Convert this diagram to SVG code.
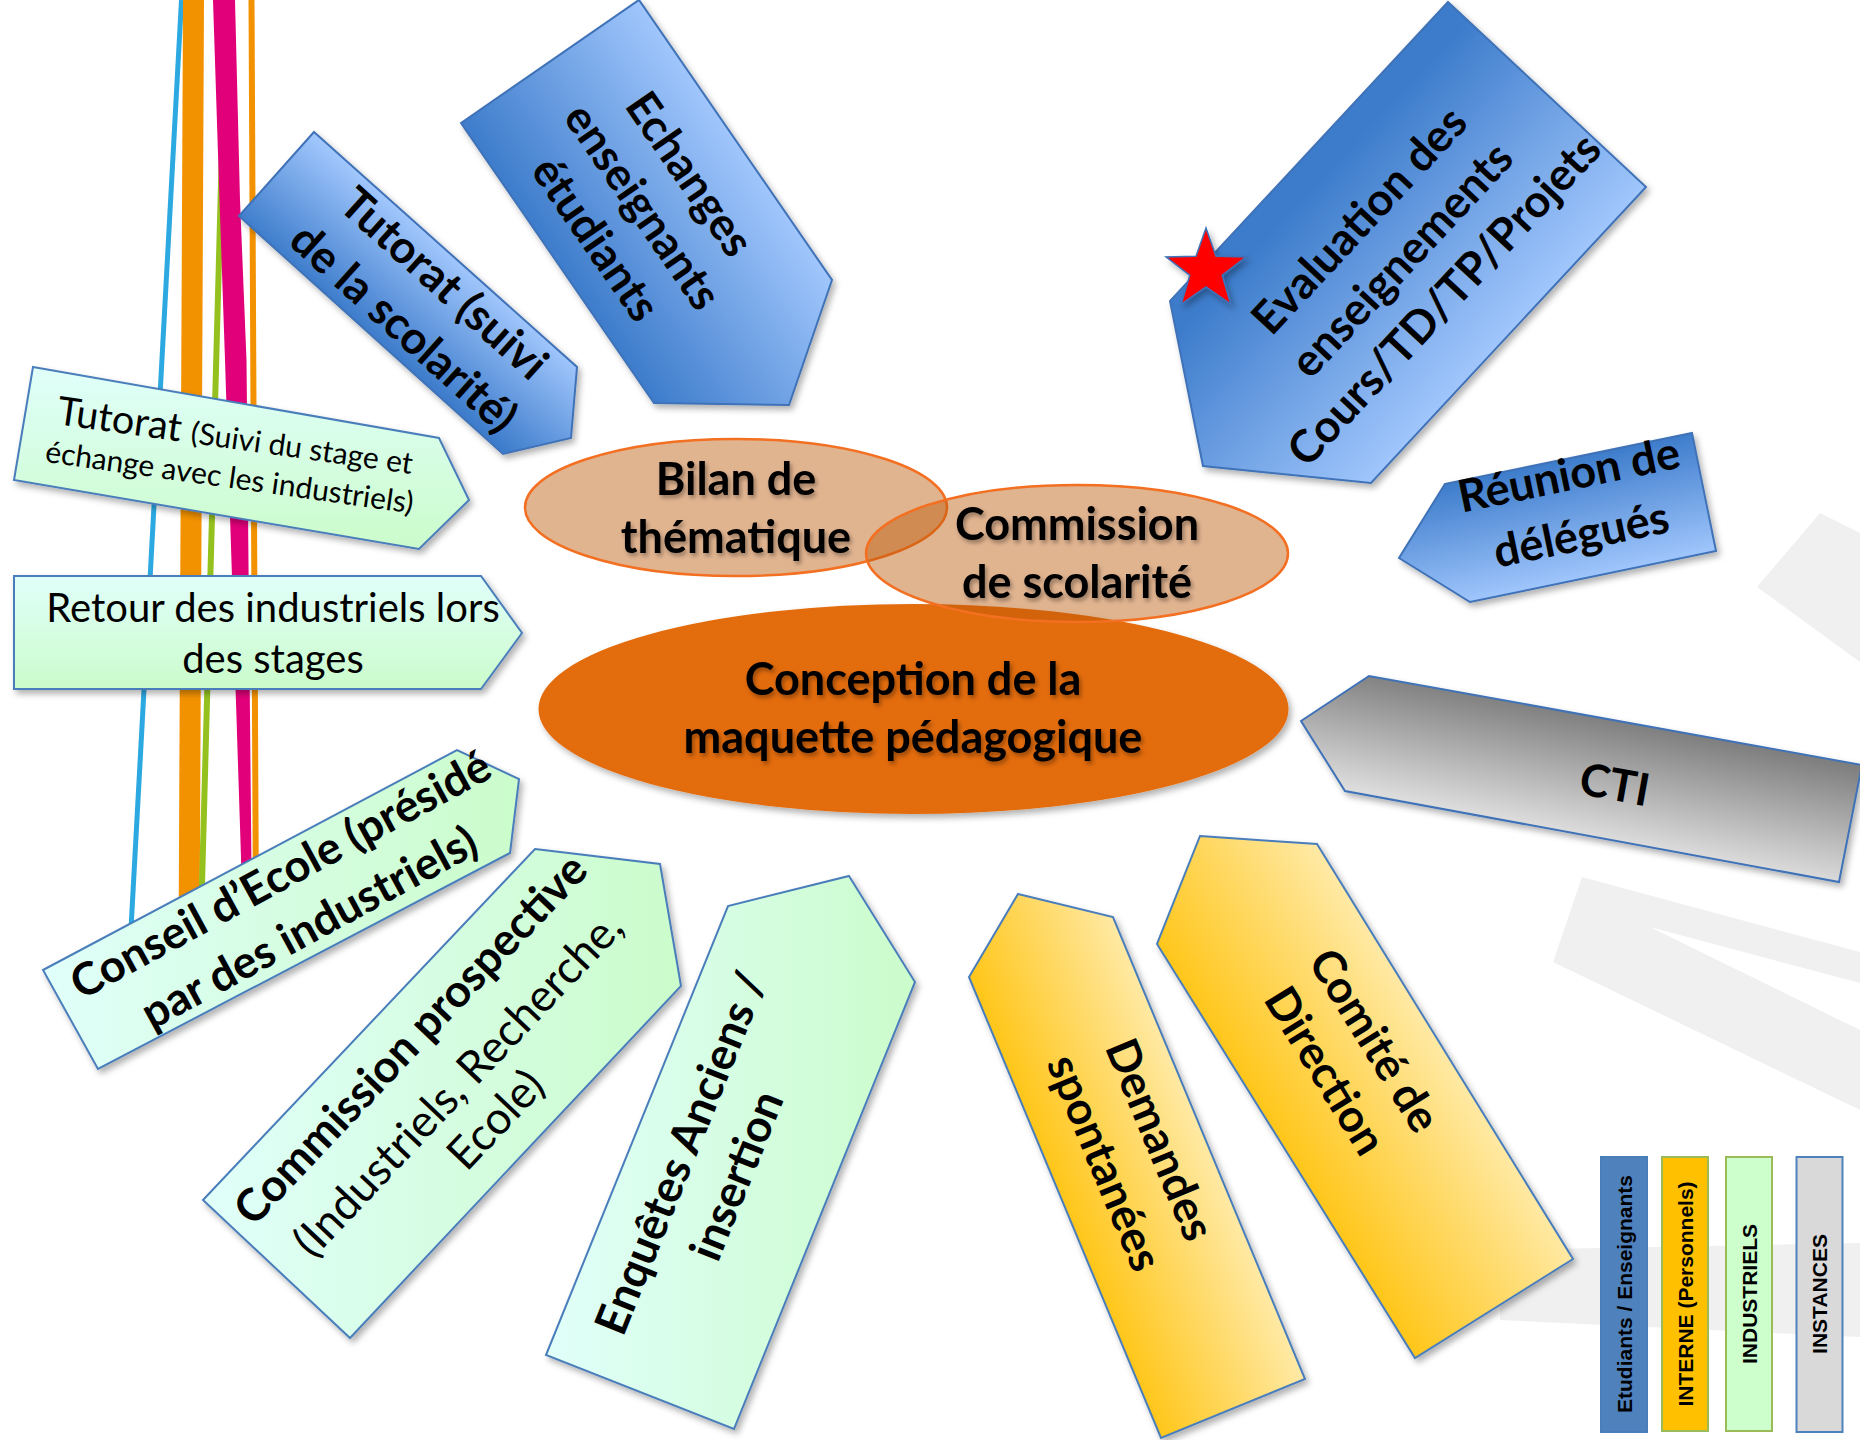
<svg xmlns="http://www.w3.org/2000/svg" width="1860" height="1440" viewBox="0 0 1860 1440">
<defs>
<style>
.b{font-family:Lato,"Open Sans","DejaVu Sans",sans-serif;font-weight:700;font-size:45px;fill:#000;text-anchor:middle}
.r{font-family:Lato,"Open Sans","DejaVu Sans",sans-serif;font-weight:400;font-size:45px;fill:#000;text-anchor:middle}
.lg{font-family:"Liberation Sans",Arial,sans-serif;font-weight:700;font-size:21px;fill:#000;text-anchor:middle}
.blue{stroke:#3F72B8;stroke-width:2;filter:url(#sh)}
.green{stroke:#4A7EBB;stroke-width:2;filter:url(#sh)}
.yel{stroke:#4A7EBB;stroke-width:2;filter:url(#sh)}
.wm{fill:#F0F0F0}
.ts{filter:url(#tsh)}
</style>
<filter id="sh" x="-10%" y="-10%" width="130%" height="130%">
<feDropShadow dx="3" dy="4" stdDeviation="3" flood-color="#000" flood-opacity="0.3"/>
</filter>
<filter id="tsh" x="-10%" y="-20%" width="130%" height="150%">
<feDropShadow dx="2" dy="3" stdDeviation="2" flood-color="#000" flood-opacity="0.35"/>
</filter>
<linearGradient id="gEch" gradientUnits="userSpaceOnUse" x1="557" y1="263" x2="735" y2="140"><stop offset="0" stop-color="#3D7CCB"/><stop offset="1" stop-color="#A0C6FC"/></linearGradient>
<linearGradient id="gTut" gradientUnits="userSpaceOnUse" x1="371" y1="335" x2="445" y2="250"><stop offset="0" stop-color="#3D7CCB"/><stop offset="1" stop-color="#A0C6FC"/></linearGradient>
<linearGradient id="gEva" gradientUnits="userSpaceOnUse" x1="1309" y1="151" x2="1508" y2="335"><stop offset="0.1" stop-color="#3D7CCB"/><stop offset="1" stop-color="#A0C6FC"/></linearGradient>
<linearGradient id="gReu" gradientUnits="userSpaceOnUse" x1="1568" y1="458" x2="1593" y2="577"><stop offset="0" stop-color="#3D7CCB"/><stop offset="1" stop-color="#A0C6FC"/></linearGradient>
<linearGradient id="gCTI" gradientUnits="userSpaceOnUse" x1="1615" y1="720" x2="1592" y2="836"><stop offset="0" stop-color="#7F7F7F"/><stop offset="1" stop-color="#DCDCDC"/></linearGradient>
<linearGradient id="gCom" gradientUnits="userSpaceOnUse" x1="1286" y1="1151" x2="1445" y2="1051"><stop offset="0" stop-color="#FFC61A"/><stop offset="1" stop-color="#FFE9A4"/></linearGradient>
<linearGradient id="gDem" gradientUnits="userSpaceOnUse" x1="1065" y1="1207" x2="1209" y2="1148"><stop offset="0" stop-color="#FFC61A"/><stop offset="1" stop-color="#FFE9A4"/></linearGradient>
<linearGradient id="gGrn" x1="0" y1="0" x2="0" y2="1"><stop offset="0" stop-color="#E0FFFA"/><stop offset="1" stop-color="#CBFCCB"/></linearGradient>
<linearGradient id="gGrnH" x1="0" y1="0" x2="1" y2="0"><stop offset="0" stop-color="#E0FFFA"/><stop offset="1" stop-color="#CBFCCB"/></linearGradient>
</defs>
<rect width="1860" height="1440" fill="#FFFFFF"/>

<g id="watermark">
<polygon class="wm" points="1757,587 1820,513 1860,533 1860,662"/>
<polygon class="wm" points="1582,877 1860,952 1860,983 1650,927 1860,1030 1860,1110 1553,962"/>
<polygon class="wm" points="1500,1250 1860,1243 1860,1337 1500,1320"/>
</g>

<g id="connectors">
<line x1="181.5" y1="0" x2="129.3" y2="960" stroke="#2CA9E1" stroke-width="5"/>
<line x1="193.5" y1="0" x2="189" y2="950" stroke="#F39200" stroke-width="21"/>
<line x1="226" y1="0" x2="200.5" y2="940" stroke="#95C11F" stroke-width="6"/>
<polygon points="213,0 235,0 240,200 246.5,360 252,920 243,920 225,360 219.5,200" fill="#E2007A"/>
<line x1="251.5" y1="0" x2="256" y2="920" stroke="#F39200" stroke-width="6"/>
</g>

<g id="node-echanges">
<polygon class="blue" fill="url(#gEch)" points="461,123 639,0 832,280 789,405 654,403"/>
<g transform="translate(639,209) rotate(55.4)">
<text class="b" x="0" y="-46">Echanges</text>
<text class="b" x="0" y="11">enseignants</text>
<text class="b" x="0" y="68">étudiants</text>
</g>
</g>

<g id="node-tutorat-scolarite">
<polygon class="blue" fill="url(#gTut)" points="314,132 577,367 571,438 503,454 239,216"/>
<g transform="translate(421,309) rotate(42)">
<text class="b" x="0" y="-19">Tutorat (suivi</text>
<text class="b" x="0" y="41">de la scolarité)</text>
</g>
</g>

<g id="node-tutorat-stage">
<polygon class="green" fill="url(#gGrn)" points="33,367 439,438 469,500 419,549 14,480"/>
<g transform="translate(233.5,449) rotate(8)">
<text class="r" x="0" y="0" style="font-size:39.5px">Tutorat <tspan style="font-size:30px">(Suivi du stage et</tspan></text>
<text class="r" x="0" y="39" style="font-size:30px">échange avec les industriels)</text>
</g>
</g>

<g id="node-retour">
<polygon class="green" fill="url(#gGrn)" points="14,576 481,576 522,633 481,689 14,689"/>
<text class="r" x="273" y="622" style="font-size:40px">Retour des industriels lors</text>
<text class="r" x="273" y="673" style="font-size:40px">des stages</text>
</g>

<g id="node-conseil">
<polygon class="green" fill="url(#gGrnH)" points="43,970 457,750 519,779 510,853 98,1069"/>
<g transform="translate(297,905) rotate(-28.5)">
<text class="b" x="0" y="-19">Conseil d’Ecole (présidé</text>
<text class="b" x="0" y="41">par des industriels)</text>
</g>
</g>

<g id="node-commission-prospective">
<polygon class="green" fill="url(#gGrnH)" points="535,849 660,864 681,986 350,1338 203,1200"/>
<g transform="translate(461,1087) rotate(-46.6)">
<text class="b" x="0" y="-54">Commission prospective</text>
<text class="r" x="0" y="11">(Industriels, Recherche,</text>
<text class="r" x="0" y="63">Ecole)</text>
</g>
</g>

<g id="node-enquetes">
<polygon class="green" fill="url(#gGrnH)" points="849,876 915,982 734,1429 546,1355 728,906"/>
<g transform="translate(713,1166) rotate(-68)">
<text class="b" x="0" y="-19">Enquêtes Anciens /</text>
<text class="b" x="0" y="41">insertion</text>
</g>
</g>

<g id="node-demandes">
<polygon class="yel" fill="url(#gDem)" points="1018,894 1113,917 1305,1379 1161,1438 969,977"/>
<g transform="translate(1128,1153) rotate(67.4)">
<text class="b" x="0" y="-19">Demandes</text>
<text class="b" x="0" y="41">spontanées</text>
</g>
</g>

<g id="node-comite">
<polygon class="yel" fill="url(#gCom)" points="1200,836 1317,844 1573,1259 1415,1358 1157,944"/>
<g transform="translate(1346,1058) rotate(58.3)">
<text class="b" x="0" y="-18">Comité de</text>
<text class="b" x="0" y="40">Direction</text>
</g>
</g>

<g id="node-cti">
<polygon class="blue" fill="url(#gCTI)" points="1301,721 1369,676 1862,765 1839,882 1345,791"/>
<text class="b" transform="translate(1612,800) rotate(10.3)" x="0" y="0">CTI</text>
</g>

<g id="node-reunion">
<polygon class="blue" fill="url(#gReu)" points="1445,484 1692,433 1716,551 1470,602 1399,558"/>
<g transform="translate(1572,490) rotate(-11.7)">
<text class="b" x="0" y="0">Réunion de</text>
<text class="b" x="0" y="61">délégués</text>
</g>
</g>

<g id="node-evaluation">
<polygon class="blue" fill="url(#gEva)" points="1448,2 1646,187 1371,483 1203,466 1170,301"/>
<g transform="translate(1405,263) rotate(-47)">
<text class="b" x="0" y="-47">Evaluation des</text>
<text class="b" x="0" y="11">enseignements</text>
<text class="b" x="0" y="69">Cours/TD/TP/Projets</text>
</g>
<polygon fill="#FF0000" stroke="#3F72B8" stroke-width="1.5" filter="url(#sh)" points="1206,228 1216,256.2 1245.9,257 1222.2,275.3 1230.7,304 1206,287 1181.3,304 1189.8,275.3 1166.1,257 1196,256.2"/>
</g>

<g id="node-conception">
<ellipse cx="913.5" cy="709" rx="374" ry="104" fill="#E36C0E" stroke="#E36C0E" stroke-width="2" filter="url(#sh)"/>
<text class="b ts" x="913" y="695">Conception de la</text>
<text class="b ts" x="913" y="753">maquette pédagogique</text>
</g>

<g id="node-bilan">
<ellipse cx="736" cy="507.5" rx="211" ry="68.5" fill="#BC5808" fill-opacity="0.45" stroke="#F36F21" stroke-width="2.5"/>
<text class="b ts" x="736" y="495">Bilan de</text>
<text class="b ts" x="736" y="553">thématique</text>
</g>

<g id="node-commission-scolarite">
<ellipse cx="1077" cy="553.5" rx="211" ry="68.5" fill="#BC5808" fill-opacity="0.45" stroke="#F36F21" stroke-width="2.5"/>
<text class="b ts" x="1077" y="540">Commission</text>
<text class="b ts" x="1077" y="598">de scolarité</text>
</g>

<g id="legend">
<g id="legend-etudiants">
<rect x="1601" y="1157" width="46" height="275" fill="#4F81BD" stroke="#4A7EBB" stroke-width="2"/>
<text class="lg" transform="translate(1624,1294) rotate(-90)" x="0" y="7.5">Etudiants / Enseignants</text>
</g>
<g id="legend-interne">
<rect x="1662" y="1157" width="46" height="274" fill="#FFC000" stroke="#9BBB59" stroke-width="2"/>
<text class="lg" transform="translate(1685,1294) rotate(-90)" x="0" y="7.5">INTERNE (Personnels)</text>
</g>
<g id="legend-industriels">
<rect x="1726" y="1157" width="46" height="274" fill="#CCFFCC" stroke="#9BBB59" stroke-width="2"/>
<text class="lg" transform="translate(1749,1294) rotate(-90)" x="0" y="7.5">INDUSTRIELS</text>
</g>
<g id="legend-instances">
<rect x="1796.5" y="1157" width="46" height="275" fill="#D9D9D9" stroke="#4F81BD" stroke-width="2"/>
<text class="lg" transform="translate(1819.5,1294) rotate(-90)" x="0" y="7.5">INSTANCES</text>
</g>
</g>
</svg>
